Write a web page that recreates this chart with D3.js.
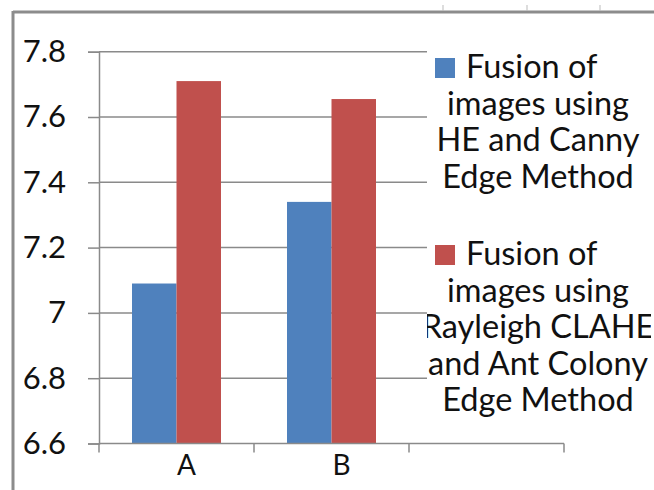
<!DOCTYPE html>
<html>
<head>
<meta charset="utf-8">
<script src="https://cdn.jsdelivr.net/npm/d3@7"></script>
<style>
  html, body { margin: 0; padding: 0; background: #fff; }
  svg { display: block; }
  text { font-family: Lato, "Open Sans", sans-serif; fill: #111; }
</style>
</head>
<body>
<svg id="chart" width="654" height="490"></svg>
<script>
// Categories along the x axis (the third slot is left empty)
const categories = ["A", "B", ""];
// Series names (legend lines) and their values per category
const seriesNames = ["he", "rayleigh"];
const heCanny = [7.09, 7.34, null];
const rayleighAnt = [7.71, 7.655, null];
const legendLines = [
  ["Fusion of", "images using", "HE and Canny", "Edge Method"],
  ["Fusion of", "images using", "Rayleigh CLAHE", "and Ant Colony", "Edge Method"]
];
const yTicks = [6.6, 6.8, 7.0, 7.2, 7.4, 7.6, 7.8];
const yTickLabels = ["6.6", "6.8", "7", "7.2", "7.4", "7.6", "7.8"];
const colors = ["#4F81BD", "#C0504D"];

const series = [heCanny, rayleighAnt];
const svg = d3.select("#chart");

// Outer chart frame (top and left edges visible)
svg.append("line").attr("x1", 13).attr("x2", 654).attr("y1", 12).attr("y2", 12)
  .attr("stroke", "#8c8c8c").attr("stroke-width", 3);
svg.append("line").attr("x1", 13).attr("x2", 13).attr("y1", 11).attr("y2", 490)
  .attr("stroke", "#8c8c8c").attr("stroke-width", 3);
// small marks above the frame
[443, 527, 600].forEach(x => {
  svg.append("line").attr("x1", x).attr("x2", x).attr("y1", 5).attr("y2", 11)
    .attr("stroke", "#bbb").attr("stroke-width", 1);
});

const x = d3.scaleBand().domain(categories).range([99, 564]).paddingInner(0).paddingOuter(0);
const xs = d3.scaleBand().domain(seriesNames).range([33, 122]);
const y = d3.scaleLinear().domain([6.6, 7.8]).range([443.5, 51.7]);

// Horizontal gridlines
svg.append("g").selectAll("line").data(yTicks.slice(1)).join("line")
  .attr("x1", 99).attr("x2", 564)
  .attr("y1", d => y(d)).attr("y2", d => y(d))
  .attr("stroke", "#8a8a8a").attr("stroke-width", 1.5);

// Bars
const groups = svg.append("g").selectAll("g").data(categories).join("g")
  .attr("transform", d => `translate(${x(d)},0)`);
groups.selectAll("rect")
  .data((c, i) => series.map((s, k) => ({ key: seriesNames[k], v: s[i], k })).filter(d => d.v != null))
  .join("rect")
  .attr("x", d => xs(d.key))
  .attr("width", xs.bandwidth())
  .attr("y", d => y(d.v))
  .attr("height", d => y(6.6) - y(d.v))
  .attr("fill", d => colors[d.k]);

// Y axis
const yAxis = d3.axisLeft(y).tickValues(yTicks).tickSize(11).tickPadding(22)
  .tickFormat((d, i) => yTickLabels[i]);
const gy = svg.append("g").attr("transform", "translate(99,0)").call(yAxis);
gy.select(".domain").attr("stroke", "#8a8a8a").attr("stroke-width", 1.5);
gy.selectAll(".tick line").attr("stroke", "#8a8a8a").attr("stroke-width", 1.5);
gy.selectAll(".tick text").style("font-size", "31px").attr("fill", "#111")
  .style("font-family", "Lato, 'Open Sans', sans-serif");

// X axis: ticks at category boundaries
svg.append("line").attr("x1", 99).attr("x2", 564).attr("y1", y(6.6)).attr("y2", y(6.6))
  .attr("stroke", "#8a8a8a").attr("stroke-width", 1.5);
const bounds = categories.map(c => x(c)).concat([x(categories[categories.length - 1]) + x.bandwidth()]);
svg.append("g").selectAll("line").data(bounds).join("line")
  .attr("x1", d => d).attr("x2", d => d)
  .attr("y1", y(6.6)).attr("y2", y(6.6) + 9)
  .attr("stroke", "#8a8a8a").attr("stroke-width", 1.5);
svg.append("g").selectAll("text").data(categories).join("text")
  .attr("x", d => x(d) + x.bandwidth() / 2 + 10)
  .attr("y", 475)
  .attr("text-anchor", "middle")
  .style("font-size", "28px")
  .text(d => d);

// Legend
const legend = svg.append("g");
legend.append("rect").attr("x", 427).attr("y", 40).attr("width", 227).attr("height", 392).attr("fill", "#fff");
svg.append("clipPath").attr("id", "legclip").append("rect")
  .attr("x", 427).attr("y", 30).attr("width", 224).attr("height", 410);
const entryTop = [78, 265];
const lineGap = 36.5;
legendLines.forEach((lines, k) => {
  legend.append("rect").attr("x", 435).attr("y", entryTop[k] - 20).attr("width", 20).attr("height", 20)
    .attr("fill", colors[k]);
  const t = legend.append("g").attr("clip-path", "url(#legclip)");
  lines.forEach((ln, j) => {
    t.append("text")
      .attr("x", j === 0 ? 466 : 538)
      .attr("y", entryTop[k] + j * lineGap)
      .attr("text-anchor", j === 0 ? "start" : "middle")
      .style("font-size", "32.5px")
      .text(ln);
  });
});
</script>
</body>
</html>
